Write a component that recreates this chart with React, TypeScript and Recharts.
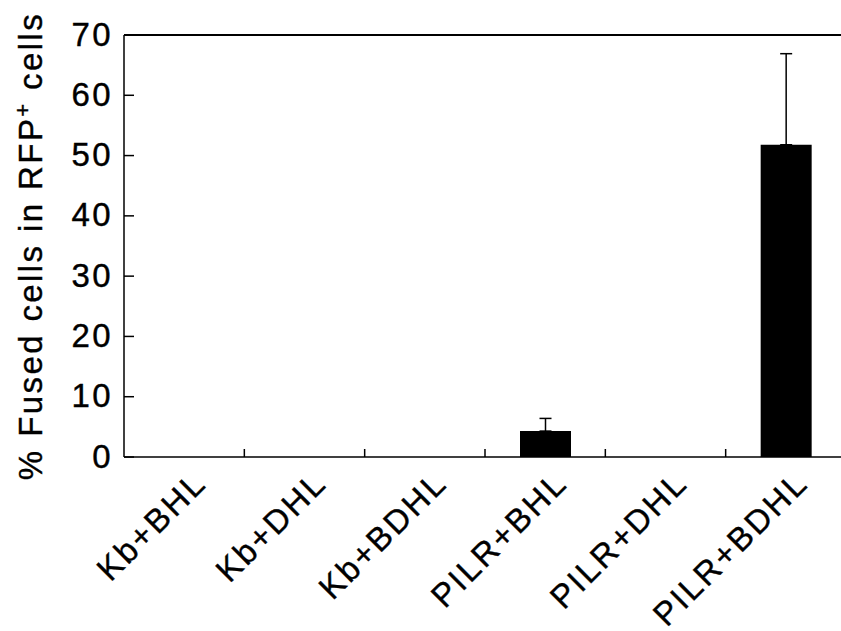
import React from "react";
import { Bar, BarChart, ErrorBar, ReferenceLine, XAxis, YAxis } from "recharts";

const groups = ["Kb+BHL", "Kb+DHL", "Kb+BDHL", "PILR+BHL", "PILR+DHL", "PILR+BDHL"];
const fused = [0, 0, 0, 4.3, 0, 51.8];
const fusedErr = [null, null, null, 2.1, null, 15.1];
const yTicks = [0, 10, 20, 30, 40, 50, 60, 70];

const rows = groups.map((g, i) => ({
  group: g,
  fused: fused[i],
  err: fusedErr[i] == null ? null : [0, fusedErr[i]],
}));

const FONT = "'Liberation Sans', Arial, Helvetica, sans-serif";

// text a touch heavier, like the scanned figure
const textStyle = {
  fontFamily: FONT,
  fontSize: 33,
  letterSpacing: 2.4,
  fill: "#000",
  stroke: "#000",
  strokeWidth: 0.4,
};

const GroupTick = (props: any) => {
  const { x, y, payload, index } = props;
  const half = payload.offset ?? 60;
  const tx = x + 24;
  const ty = y + 28;
  return (
    <g>
      {index > 0 && (
        <line x1={x - half} x2={x - half} y1={y} y2={y - 8} stroke="#000" strokeWidth={1.5} />
      )}
      <text x={tx} y={ty} transform={`rotate(-45 ${tx} ${ty})`} textAnchor="end" {...textStyle}>
        {payload.value}
      </text>
    </g>
  );
};

const ValueTick = (props: any) => {
  const { x, y, payload } = props;
  return (
    <text x={x} y={y} dy={10.5} textAnchor="end" {...textStyle}>
      {payload.value}
    </text>
  );
};

const YTitle = (props: any) => {
  const vb = props.viewBox || { x: 0, y: 35, width: 124, height: 422 };
  const tx = vb.x + 42;
  const ty = vb.y + vb.height / 2;
  return (
    <text x={tx} y={ty} transform={`rotate(-90 ${tx} ${ty})`} textAnchor="middle" {...textStyle}>
      % Fused cells in RFP
      <tspan baselineShift="super" fontSize={22}>+</tspan>
      <tspan> cells</tspan>
    </text>
  );
};

export default function App() {
  return (
    <div
      style={{
        position: "absolute",
        left: 0,
        top: 0,
        width: 841,
        height: 631,
        overflow: "hidden",
        background: "#fff",
      }}
    >
      <BarChart
        width={846}
        height={631}
        data={rows}
        margin={{ top: 35, right: 0, bottom: 0, left: 0 }}
        barSize={51}
      >
        <ReferenceLine y={70} stroke="#000" strokeWidth={2} />
        <XAxis
          dataKey="group"
          height={174}
          interval={0}
          tickLine={false}
          tickSize={0}
          tickMargin={0}
          axisLine={{ stroke: "#000", strokeWidth: 1.5 }}
          tick={<GroupTick />}
        />
        <YAxis
          width={124}
          domain={[0, 70]}
          ticks={yTicks}
          interval={0}
          tickSize={-10}
          tickMargin={21}
          tickLine={{ stroke: "#000", strokeWidth: 1.5 }}
          axisLine={{ stroke: "#000", strokeWidth: 1.5 }}
          tick={<ValueTick />}
          label={<YTitle />}
        />
        <Bar dataKey="fused" fill="#000" isAnimationActive={false}>
          <ErrorBar dataKey="err" direction="y" width={6} stroke="#000" strokeWidth={1.5} />
        </Bar>
      </BarChart>
    </div>
  );
}
